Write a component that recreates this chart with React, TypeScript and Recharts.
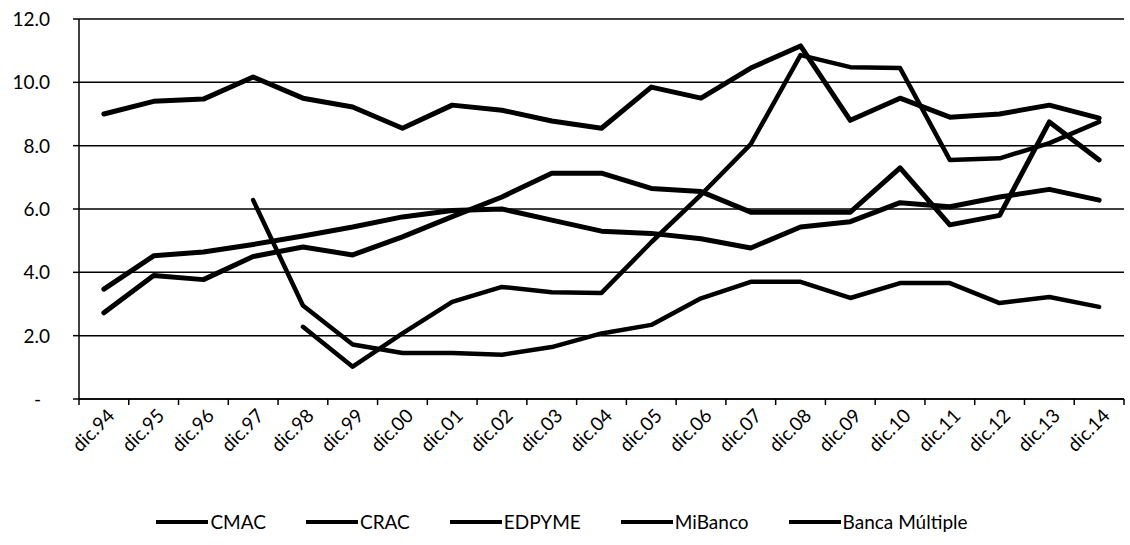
import React from 'react';
import { LineChart, Line, XAxis, YAxis, CartesianGrid, Legend } from 'recharts';

const categories = ['dic.94','dic.95','dic.96','dic.97','dic.98','dic.99','dic.00','dic.01','dic.02','dic.03','dic.04','dic.05','dic.06','dic.07','dic.08','dic.09','dic.10','dic.11','dic.12','dic.13','dic.14'];
const cmac = [3.47, 4.52, 4.64, 4.88, 5.15, 5.43, 5.75, 5.95, 6.0, 5.65, 5.3, 5.23, 5.06, 4.77, 5.43, 5.6, 6.2, 6.07, 6.38, 6.62, 6.28];
const crac = [2.72, 3.9, 3.77, 4.5, 4.8, 4.55, 5.12, 5.76, 6.38, 7.13, 7.13, 6.65, 6.55, 5.9, 5.9, 5.9, 7.3, 5.5, 5.8, 8.75, 7.55];
const edpyme = [null, null, null, 6.28, 2.95, 1.72, 1.45, 1.45, 1.4, 1.64, 2.07, 2.34, 3.18, 3.7, 3.7, 3.19, 3.66, 3.66, 3.03, 3.22, 2.91];
const mibanco = [null, null, null, null, 2.28, 1.02, 2.07, 3.07, 3.54, 3.37, 3.35, 4.95, 6.45, 8.05, 10.86, 10.48, 10.45, 7.55, 7.6, 8.08, 8.75];
const bancaMultiple = [9.0, 9.4, 9.47, 10.17, 9.5, 9.22, 8.55, 9.28, 9.12, 8.78, 8.55, 9.85, 9.5, 10.45, 11.15, 8.8, 9.5, 8.9, 9.0, 9.28, 8.87];
const yTicks = [0, 2, 4, 6, 8, 10, 12];

const seriesDefs = [
  { key: 'CMAC', values: cmac, width: 5 },
  { key: 'CRAC', values: crac, width: 5 },
  { key: 'EDPYME', values: edpyme, width: 4.5 },
  { key: 'MiBanco', values: mibanco, width: 4.5 },
  { key: 'Banca Múltiple', values: bancaMultiple, width: 5 },
];

const data = categories.map((c, i) => {
  const row: any = { cat: c };
  seriesDefs.forEach((s) => { row[s.key] = s.values[i]; });
  return row;
});

const W = 1130;
const H = 545;
const MARGIN = { top: 19, right: 6, left: 0, bottom: 43 };
const Y_W = 79;
const PLOT_W = W - MARGIN.left - MARGIN.right - Y_W;
const HALF = PLOT_W / categories.length / 2;
const FONT = 'Lato, "Open Sans", sans-serif';

const XTick = (props: any) => {
  const { x, y, payload, index } = props;
  const axisY = y - 8;
  const last = index === categories.length - 1;
  return (
    <g>
      <line x1={x - HALF} y1={axisY} x2={x - HALF} y2={axisY + 6} stroke="#000" strokeWidth={1.5} />
      {last && <line x1={x + HALF} y1={axisY} x2={x + HALF} y2={axisY + 6} stroke="#000" strokeWidth={1.5} />}
      <text x={x + 12} y={y + 10} transform={`rotate(-45, ${x + 12}, ${y + 10})`} textAnchor="end" fontSize={19} fontFamily={FONT} fill="#000">
        {payload.value}
      </text>
    </g>
  );
};

const YTick = (props: any) => {
  const { x, y, payload } = props;
  const v = payload.value;
  const label = v === 0 ? '-' : v.toFixed(1);
  return (
    <text x={v === 0 ? x - 9 : x} y={y} dy={7} textAnchor="end" fontSize={19} fontFamily={FONT} fill="#000">
      {label}
    </text>
  );
};

const LegendContent = () => {
  return (
    <div style={{ display: 'flex', justifyContent: 'center', alignItems: 'center', fontFamily: FONT, fontSize: 19, color: '#000' }}>
      {seriesDefs.map((s, i) => (
        <div key={s.key} style={{ display: 'flex', alignItems: 'center', marginRight: i < seriesDefs.length - 1 ? 40 : 0 }}>
          <svg width={52} height={10} style={{ marginRight: 2 }}>
            <line x1={0} y1={5} x2={52} y2={5} stroke="#000" strokeWidth={4} />
          </svg>
          <span>{s.key}</span>
        </div>
      ))}
    </div>
  );
};

export default function App() {
  return (
    <div style={{ position: 'absolute', left: 0, top: 0, width: W, height: H, background: '#fff', fontFamily: FONT }}>
      <LineChart width={W} height={H} data={data} margin={MARGIN}>
        <CartesianGrid horizontal vertical={false} stroke="#000" strokeWidth={1.5} />
        <XAxis
          dataKey="cat"
          height={80}
          interval={0}
          padding={{ left: HALF, right: HALF }}
          tickLine={false}
          tickSize={6}
          tickMargin={2}
          axisLine={{ stroke: '#000', strokeWidth: 1.5 }}
          tick={<XTick />}
        />
        <YAxis
          width={Y_W}
          domain={[0, 12]}
          ticks={yTicks}
          interval={0}
          tickSize={6}
          tickMargin={23}
          axisLine={{ stroke: '#000', strokeWidth: 1.5 }}
          tickLine={{ stroke: '#000', strokeWidth: 1.5 }}
          tick={<YTick />}
        />
        <Legend verticalAlign="bottom" content={<LegendContent />} wrapperStyle={{ bottom: 12 }} />
        {seriesDefs.map((s) => (
          <Line
            key={s.key}
            dataKey={s.key}
            name={s.key}
            type="linear"
            stroke="#000"
            strokeWidth={s.width}
            strokeLinejoin="round"
            strokeLinecap="round"
            dot={false}
            activeDot={false}
            isAnimationActive={false}
          />
        ))}
      </LineChart>
    </div>
  );
}
